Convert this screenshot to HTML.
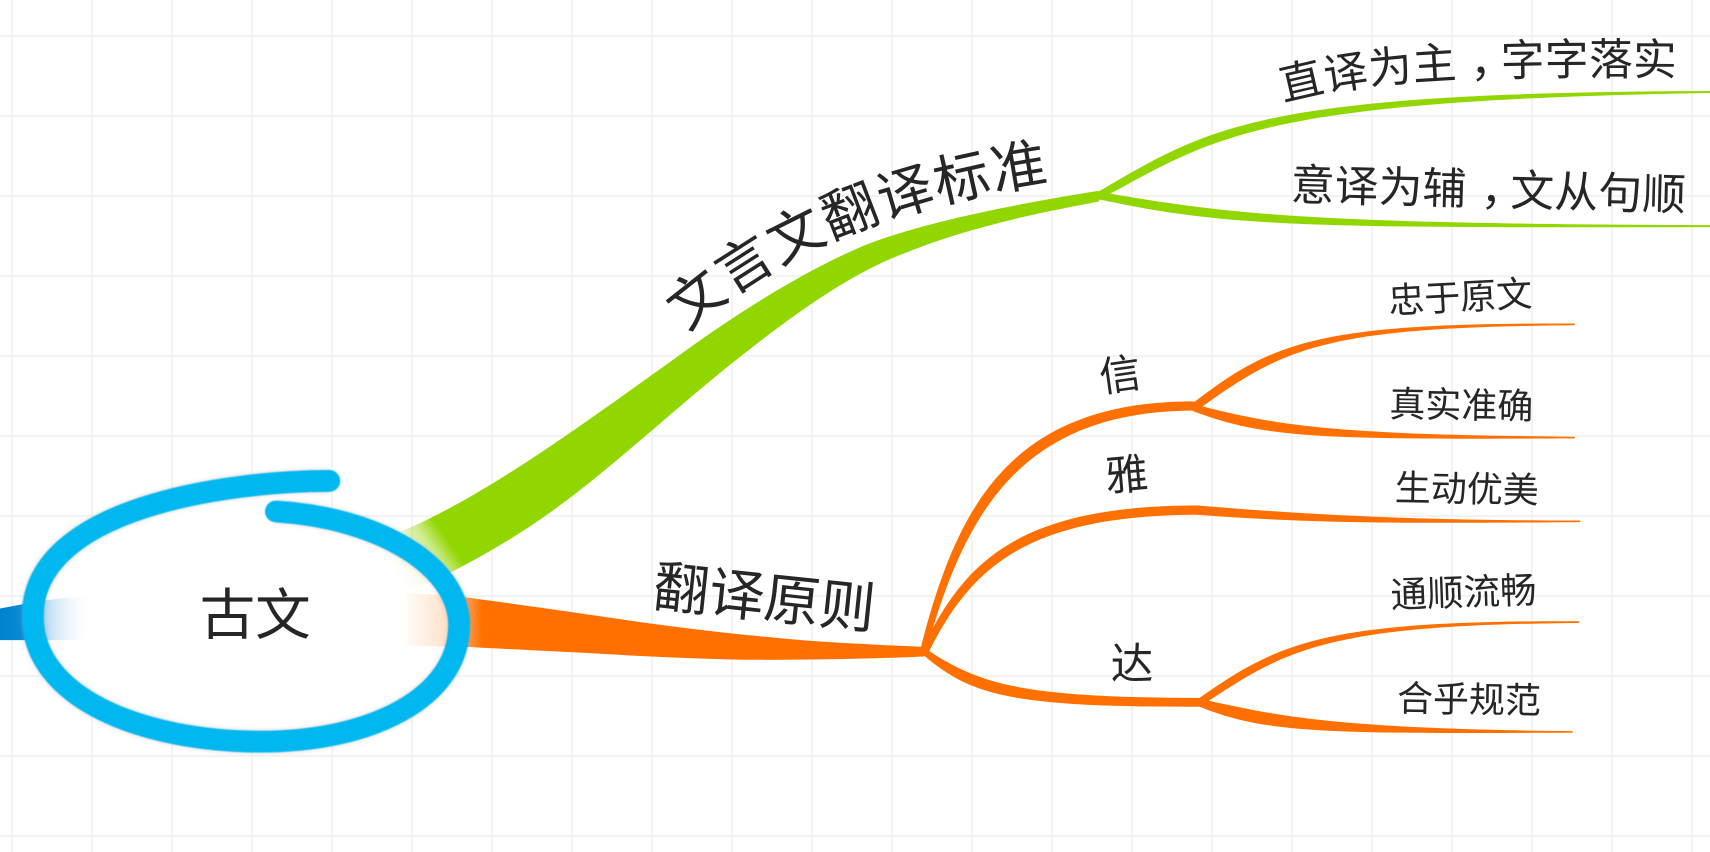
<!DOCTYPE html>
<html lang="zh-CN">
<head>
<meta charset="utf-8">
<title>古文</title>
<style>
html,body{margin:0;padding:0;width:1710px;height:852px;overflow:hidden;background-color:#fff;}
body{background-image:linear-gradient(#f3f3f3 2px,transparent 2px),linear-gradient(90deg,#f3f3f3 2px,transparent 2px);background-size:80px 80px;background-position:0 35px,11px 0;}
svg{position:absolute;left:0;top:0;display:block;}
text{font-family:"Liberation Sans","Noto Sans CJK SC",sans-serif;fill:#262626;}
</style>
</head>
<body>
<svg width="1710" height="852" viewBox="0 0 1568 781.2" xmlns="http://www.w3.org/2000/svg">
<defs>
  <linearGradient id="gb" gradientUnits="userSpaceOnUse" x1="0" y1="0" x2="85" y2="0">
    <stop offset="0" stop-color="#0083cf"/>
    <stop offset=".27" stop-color="#0a8cd6"/>
    <stop offset=".5" stop-color="#b9dcf3"/>
    <stop offset="1" stop-color="#fff" stop-opacity="0"/>
  </linearGradient>
  <linearGradient id="go" gradientUnits="userSpaceOnUse" x1="368" y1="0" x2="442" y2="0">
    <stop offset="0" stop-color="#ff7000" stop-opacity="0"/>
    <stop offset=".58" stop-color="#ff7000" stop-opacity=".22"/>
    <stop offset=".78" stop-color="#ff7000" stop-opacity=".65"/>
    <stop offset="1" stop-color="#ff7000"/>
  </linearGradient>
  <linearGradient id="gg" gradientUnits="userSpaceOnUse" x1="355" y1="514" x2="402" y2="482">
    <stop offset="0" stop-color="#92d600" stop-opacity="0"/>
    <stop offset=".35" stop-color="#92d600" stop-opacity=".08"/>
    <stop offset=".7" stop-color="#92d600" stop-opacity=".45"/>
    <stop offset="1" stop-color="#92d600"/>
  </linearGradient>
  <filter id="bl" x="-5%" y="-5%" width="110%" height="110%"><feGaussianBlur stdDeviation="2"/></filter>
  <filter id="bs" x="-5%" y="-5%" width="110%" height="110%"><feGaussianBlur stdDeviation=".5"/></filter>
  <path id="p1" d="M630 304 C 700 244, 790 190, 975 165"/>
  <path id="p2" d="M1177 93 C 1252 72, 1352 67, 1550 69"/>
</defs>

<!-- ellipse fill -->
<path d="M302 441 C 210 441, 30 465, 30 565 C 30 640, 130 680, 240 680 C 340 680, 421 640, 421 573 C 421 520, 350 475, 253 469 Z" fill="#fff"/>

<!-- main branches -->
<path d="M0 558 C 30 552, 55 548, 85 546 L85 587 L0 587 Z" fill="url(#gb)"/>
<path d="M340 500 L371 486 C 450 452, 540 385, 628 322 C 678 286, 735 250, 788 227 C 828 210, 900 192, 1007 175 L1010 180 L1007 185 C 930 199, 870 214, 813 239 C 770 258, 720 294, 670 334 C 620 374, 565 425, 518 460 C 485 485, 450 506, 415 524 L370 545 Z" fill="url(#gg)"/>
<path d="M370 543 L426 547.5 C 480 555, 530 562, 577 569 C 620 575, 660 580, 703 584 C 750 589, 800 591, 845 593 L849 597 L847 602 C 800 604, 750 605, 703 605 C 660 605, 620 603, 577 601 C 530 598, 480 596, 426 593 L368 592 Z" fill="url(#go)"/>

<!-- orange sub-branches -->
<g fill="#ff7000">
  <path d="M844 595 C 877 466, 925 368, 1095 368 L1097 372 L1095 376.5 C 935 376.5, 884 472, 849 598 Z"/>
  <path d="M845 596 C 883 518, 930 463, 1100 463.5 L1100 472 C 938 472, 889 523, 851 599 Z"/>
  <path d="M846 593 C 897 627, 932 639.5, 1100 640 L1101 644 L1100 648 C 928 648.5, 890 638, 846 600 Z"/>
  <path d="M1092 371 C 1168 312, 1210 296, 1444 296.6 L1444 298.2 C 1215 300, 1178 318, 1098 376 Z"/>
  <path d="M1092 370 C 1170 390, 1215 398.5, 1444 400.4 L1444 402 C 1210 403, 1160 402, 1094 377 Z"/>
  <path d="M1098 463.5 C 1200 472, 1290 477, 1449 477.3 L1449 478.7 C 1290 480, 1200 480, 1098 472 Z"/>
  <path d="M1097 642 C 1173 588, 1215 569, 1448 569.6 L1448 571.2 C 1220 573, 1180 594, 1102 647 Z"/>
  <path d="M1097 640 C 1170 656, 1215 668, 1442 670.4 L1442 671.8 C 1210 673, 1160 672, 1100 648 Z"/>
</g>
<!-- green sub-branches -->
<g fill="#92d600">
  <path d="M1005 177 C 1110 116, 1150 85, 1568 83.4 L1568 85.2 C 1155 92, 1115 125, 1012 181 Z"/>
  <path d="M1006 175.5 C 1130 197, 1200 205, 1568 206.4 L1568 208.2 C 1195 209, 1125 208, 1006 182.5 Z"/>
</g>

<!-- ellipse outline -->
<path d="M302 441 C 210 441, 30 465, 30 565 C 30 640, 130 680, 240 680 C 340 680, 421 640, 421 573 C 421 520, 350 475, 253 469" fill="none" stroke="#999" stroke-opacity=".35" stroke-width="21" filter="url(#bl)"/>
<path d="M302 441 C 210 441, 30 465, 30 565 C 30 640, 130 680, 240 680 C 340 680, 421 640, 421 573 C 421 520, 350 475, 253 469" fill="none" stroke="#00b7ef" stroke-width="20" stroke-linecap="round" filter="url(#bs)"/>

<!-- labels -->
<text x="234" y="582" font-size="51" text-anchor="middle">古文</text>
<text font-size="51" letter-spacing="1.3"><textPath href="#p1">文言文翻译标准</textPath></text>
<text x="701" y="566" font-size="51" text-anchor="middle" transform="rotate(6 701 548)">翻译原则</text>
<text font-size="40" letter-spacing=".3"><textPath href="#p2">直译为主<tspan dx="12">，</tspan><tspan dx="-12">字字落实</tspan></textPath></text>
<text x="1365" y="188" font-size="40" letter-spacing=".3" text-anchor="middle" transform="rotate(1.5 1365 172)">意译为辅<tspan dx="13">，</tspan><tspan dx="-13">文从句顺</tspan></text>
<text x="1027" y="357" font-size="38" text-anchor="middle" transform="rotate(-8 1027 343)">信</text>
<text x="1033" y="449" font-size="39" text-anchor="middle" transform="rotate(-5 1033 435)">雅</text>
<text x="1038" y="622" font-size="39" text-anchor="middle">达</text>
<text x="1339" y="284" font-size="33" text-anchor="middle" transform="rotate(-3 1339 272)">忠于原文</text>
<text x="1340" y="383" font-size="33" text-anchor="middle" transform="rotate(1 1340 371)">真实准确</text>
<text x="1345" y="460" font-size="33" text-anchor="middle" transform="rotate(1 1345 448)">生动优美</text>
<text x="1342" y="555" font-size="33.5" text-anchor="middle" transform="rotate(-2 1342 543)">通顺流畅</text>
<text x="1347" y="653" font-size="33" text-anchor="middle" transform="rotate(1 1347 641)">合乎规范</text>
</svg>
</body>
</html>
